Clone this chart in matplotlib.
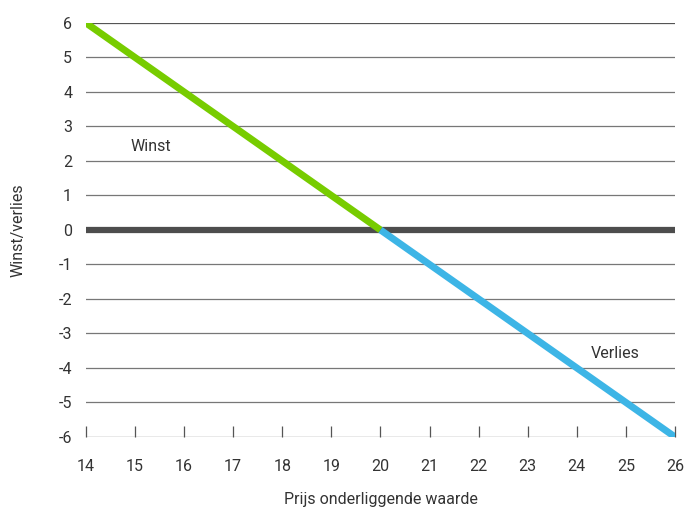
import matplotlib.pyplot as plt
import numpy as np

# Data
prijs = [14, 15, 16, 17, 18, 19, 20, 21, 22, 23, 24, 25, 26]
winst_x = [14, 20]
winst_y = [6, 0]
verlies_x = [20, 26]
verlies_y = [0, -6]
y_ticks = [6, 5, 4, 3, 2, 1, 0, -1, -2, -3, -4, -5, -6]

plt.rcParams["font.family"] = ["Roboto", "DejaVu Sans"]

fig = plt.figure(figsize=(6.88, 5.11), dpi=100)
ax = fig.add_axes([0.125, 0.145, 0.856, 0.81])

# Gridlines
for v in y_ticks:
    if v == 0:
        continue
    ax.axhline(v, color="#555555" if v in (6, -6) else "#777777", lw=0.9, zorder=1)
ax.axhline(0, color="#4d4d4d", lw=4.5, zorder=2)

# Lines
ax.plot(winst_x, winst_y, color="#77cc00", lw=5, solid_capstyle="butt", zorder=3)
ax.plot(verlies_x, verlies_y, color="#3db5e6", lw=5, solid_capstyle="butt", zorder=3)

ax.text(14.9, 2.43, "Winst", fontsize=11.5, color="#333333", va="center", ha="left")
ax.text(24.28, -3.57, "Verlies", fontsize=11.5, color="#333333", va="center", ha="left")

ax.set_xlim(14, 26)
ax.set_ylim(-6, 6)
ax.set_xticks(prijs)
ax.set_yticks(y_ticks)
ax.set_yticklabels([str(v) for v in y_ticks])

for s in ax.spines.values():
    s.set_visible(False)

ax.tick_params(axis="x", direction="in", length=8, width=0.9, color="#555555",
               labelsize=11.5, labelcolor="#333333", pad=16)
ax.tick_params(axis="y", length=0, labelsize=11.5, labelcolor="#333333", pad=10)

ax.set_xlabel("Prijs onderliggende waarde", fontsize=11.5, color="#333333")
ax.xaxis.set_label_coords(0.5, -0.133)
ax.set_ylabel("Winst/verlies", fontsize=11.5, color="#333333")
ax.yaxis.set_label_coords(-0.102, 0.5)

fig.savefig("out.png", dpi=100)
